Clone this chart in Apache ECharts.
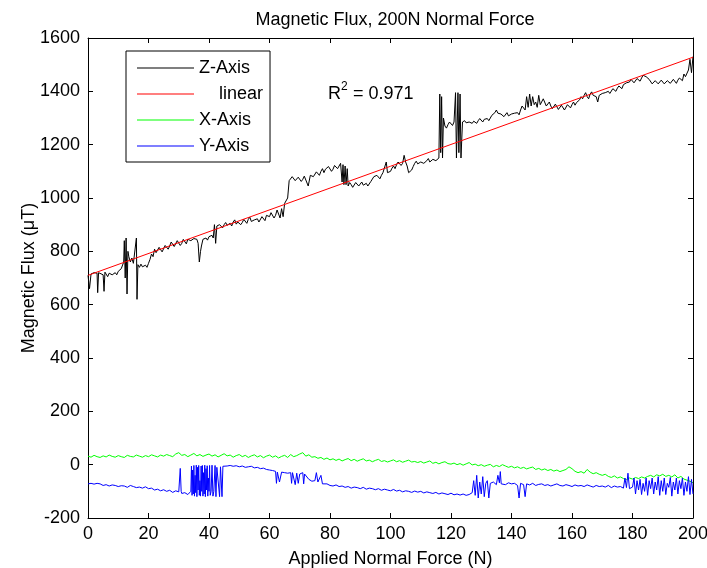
<!DOCTYPE html>
<html>
<head>
<meta charset="utf-8">
<script src="https://cdn.jsdelivr.net/npm/echarts@6/dist/echarts.min.js"></script>
<style>
html,body{margin:0;padding:0;background:#fff;}
#chart{width:707px;height:568px;}
</style>
</head>
<body>
<div id="chart"></div>
<script>
// ---- Data ----
const chartTitle = 'Magnetic Flux, 200N Normal Force';
const xAxisTitle = 'Applied Normal Force (N)';
const yAxisTitle = 'Magnetic Flux (\u03bcT)';
const seriesNames = ['Z-Axis', 'linear', 'X-Axis', 'Y-Axis'];
const xTicks = {min: 0, max: 200, interval: 20};
const yTicks = {min: -200, max: 1600, interval: 200};
const r2Value = '0.971';

// Z-Axis: [force (N), flux (uT)]
const zAxisData = [
[0,710],[0.5,660],[1,715],[2,720],[3,718],[3.2,645],[3.5,720],[4,715],[5,712],[5.3,650],[5.6,722],
[6,715],[6.5,705],[7,718],[7.5,725],[8,712],[8.5,708],[9,720],[9.5,712],[10,725],[10.5,718],[11,735],
[11.8,760],[12,840],[12.3,700],[12.6,850],[12.9,640],[13.2,800],[13.5,780],[14,760],[14.5,775],[15,755],
[15.5,760],[16,850],[16.2,620],[16.5,750],[17,740],[17.5,752],[18,742],[18.5,735],[19,748],[19.5,740],
[20,755],[20.5,770],[21,790],[21.5,780],[22,808],[22.5,795],[23,800],[23.5,815],[24,810],[24.5,798],
[25,805],[25.5,822],[26,815],[26.5,808],[27,820],[27.5,835],[28,830],[28.5,818],[29,825],[29.5,840],
[30,835],[30.5,822],[31,830],[31.5,845],[32,838],[32.5,828],[33,845],[33.5,852],[34,840],[34.5,835],
[35,848],[35.5,855],[36,845],[36.4,830],[36.8,760],[37.2,800],[37.5,820],[38,845],[38.5,838],[39,850],
[39.5,842],[40,855],[40.5,848],[41,860],[41.4,850],[41.8,900],[42.2,830],[42.6,895],[43,890],[43.5,900],
[44,895],[44.5,888],[45,900],[45.5,908],[46,898],[46.5,905],[47,905],[47.5,895],[48,910],[48.5,918],
[49,902],[49.5,910],[50,912],[50.5,900],[51,908],[51.5,920],[52,915],[52.5,905],[53,920],[53.5,928],
[54,912],[54.5,905],[55,918],[55.5,925],[56,922],[56.5,910],[57,915],[57.5,930],[58,925],[58.5,915],
[59,935],[59.5,928],[60,930],[60.5,945],[61,940],[61.5,925],[62,935],[62.5,955],[63,950],[63.5,925],
[64,960],[64.5,930],[65,980],[66,1000],[66.5,1065],[67,1070],[67.5,1080],[68,1075],[68.5,1065],[69,1068],
[69.5,1078],[70,1072],[70.5,1062],[71,1070],[71.5,1082],[72,1078],[72.8,1045],[73.5,1085],[74,1090],
[74.5,1080],[75,1085],[75.5,1098],[76,1095],[76.5,1085],[77,1100],[77.5,1110],[78,1095],[78.5,1108],
[79,1105],[79.5,1118],[80,1112],[80.5,1100],[81,1108],[81.5,1122],[82,1120],[82.5,1110],[83,1115],
[83.5,1130],[84,1060],[84.3,1125],[84.6,1050],[85,1120],[85.3,1050],[85.7,1110],[86,1045],[86.5,1058],
[87,1050],[87.5,1040],[88,1045],[88.5,1058],[89,1055],[89.5,1045],[90,1050],[90.5,1060],[91,1048],
[91.5,1055],[92,1055],[92.5,1045],[93,1052],[93.5,1062],[94,1060],[94.5,1080],[95,1075],[95.5,1085],
[96,1080],[96.5,1072],[97,1085],[97.5,1095],[98,1090],[98.6,1135],[99,1095],[99.5,1088],[100,1100],
[100.5,1112],[101,1120],[101.5,1110],[102,1125],[102.5,1135],[103,1135],[103.5,1122],[104,1130],
[104.5,1160],[105,1135],[105.5,1120],[106,1095],[106.5,1100],[107,1105],[107.5,1118],[108,1130],
[108.5,1138],[109,1128],[109.5,1122],[110,1135],[110.5,1142],[111,1130],[111.5,1125],[112,1140],
[112.5,1148],[113,1135],[113.5,1130],[114,1145],[114.5,1152],[115,1140],[115.5,1135],[116,1150],
[116.3,1390],[116.6,1170],[116.9,1380],[117.2,1150],[117.5,1300],[118,1270],[118.5,1262],[119,1275],
[119.5,1285],[120,1280],[120.5,1272],[121,1285],[121.5,1395],[121.8,1150],[122.3,1395],[122.6,1170],
[123,1390],[123.3,1150],[123.8,1285],[124,1280],[124.5,1290],[125,1282],[125.5,1275],[126,1285],
[126.5,1292],[127,1280],[127.5,1288],[128,1288],[128.5,1280],[129,1290],[129.5,1298],[130,1292],
[130.5,1285],[131,1295],[131.5,1302],[132,1298],[132.5,1290],[133,1300],[133.5,1310],[134,1305],
[134.5,1320],[135,1330],[135.5,1318],[136,1325],[136.5,1315],[137,1310],[137.5,1305],[138,1312],
[138.5,1320],[139,1308],[139.5,1315],[140,1315],[140.5,1308],[141,1318],[141.5,1325],[142,1320],
[142.5,1312],[143,1330],[143.5,1345],[144,1350],[144.5,1330],[145,1380],[145.5,1340],[146,1390],
[146.5,1345],[147,1380],[147.5,1350],[148,1360],[148.5,1340],[149,1385],[149.5,1350],[150,1355],
[150.5,1372],[151,1370],[151.5,1345],[152,1345],[152.5,1360],[153,1345],[153.5,1335],[154,1340],
[154.5,1352],[155,1345],[155.5,1332],[156,1338],[156.5,1348],[157,1342],[157.5,1330],[158,1336],
[158.5,1350],[159,1345],[159.5,1338],[160,1350],[160.5,1360],[161,1348],[161.5,1358],[162,1355],
[162.5,1368],[163,1380],[163.5,1372],[164,1385],[164.5,1395],[165,1380],[165.5,1372],[166,1390],
[166.5,1398],[167,1385],[167.5,1378],[168,1380],[168.5,1360],[169,1385],[169.5,1380],[170,1392],
[170.5,1385],[171,1395],[171.5,1402],[172,1400],[172.5,1392],[173,1398],[173.5,1410],[174,1408],
[174.5,1400],[175,1412],[175.5,1420],[176,1418],[176.5,1410],[177,1425],[177.5,1432],[178,1432],
[178.5,1425],[179,1435],[179.5,1445],[180,1440],[180.5,1432],[181,1438],[181.5,1448],[182,1445],
[182.5,1438],[183,1450],[183.5,1460],[184,1462],[184.5,1455],[185,1458],[185.5,1445],[186,1440],
[186.5,1428],[187,1432],[187.5,1440],[188,1438],[188.5,1428],[189,1430],[189.5,1442],[190,1436],
[190.5,1428],[191,1432],[191.5,1440],[192,1440],[192.5,1430],[193,1434],[193.5,1445],[194,1438],
[194.5,1430],[195,1442],[195.5,1450],[196,1450],[196.5,1440],[197,1465],[197.5,1455],[198,1448],
[198.5,1480],[199,1520],[199.5,1470],[200,1530]
];

// linear fit end points
const linearFit = [[0,710],[200,1528]];

// X-Axis flux, one value per 1 N from 0 to 200 N
const xAxisFlux = [
32,28,35,30,27,33,29,36,31,28,
34,30,27,35,31,29,36,32,28,34,
30,37,33,29,36,32,38,34,30,40,
45,35,38,30,36,42,33,38,31,36,
40,32,37,29,35,41,33,36,28,34,
38,30,35,27,33,37,29,34,26,32,
36,28,33,25,31,35,27,38,30,34,
40,45,32,37,28,30,24,27,20,25,
18,22,16,21,14,19,23,15,20,13,
18,22,14,17,11,16,20,12,15,10,
14,18,11,15,9,13,17,10,12,8,
12,6,10,14,5,9,3,8,11,4,
2,6,0,4,-2,3,8,-1,2,-4,
0,-6,-2,1,-8,-3,-7,0,-5,-10,
-6,-12,-8,-14,-10,-16,-12,-9,-18,-14,
-20,-16,-22,-18,-24,-20,-26,-22,-18,-8,
-15,-25,-30,-26,-32,-18,-28,-34,-30,-36,
-40,-36,-44,-48,-42,-50,-46,-52,-56,-50,
-54,-48,-52,-46,-50,-44,-40,-46,-38,-42,
-36,-44,-40,-46,-38,-50,-44,-54,-58,-62,
-68
];
const xAxisForceStart = 0, xAxisForceStep = 1;

// Y-Axis: [force (N), flux (uT)]
const yAxisData = [
[0,-72],[1,-70],[2,-73],[3,-70],[4,-72],[5,-78],[6,-75],[7,-80],[8,-76],[9,-78],[10,-82],[11,-79],
[12,-80],[13,-85],[14,-78],[15,-82],[16,-86],[17,-84],[18,-88],[19,-83],[20,-90],[21,-88],[22,-95],
[23,-92],[24,-98],[25,-94],[26,-100],[27,-96],[28,-104],[29,-98],[30,-102],[30.5,-14],[30.8,-100],
[31,-108],[32,-105],[33,-112],[34,-100],[34.2,-5],[34.4,-115],[34.6,-20],[34.8,-110],[35,-3],[35.2,-118],
[35.4,-40],[35.6,-105],[35.8,-2],[36,-120],[36.2,-10],[36.4,-95],[36.6,-3],[36.8,-115],[37,-60],
[37.2,-118],[37.4,-5],[37.6,-100],[37.8,-3],[38,-118],[38.2,-30],[38.4,-110],[38.6,-2],[38.8,-120],
[39,-15],[39.2,-95],[39.4,-4],[39.6,-118],[39.8,-50],[40,-100],[40.2,-3],[40.4,-115],[40.7,-100],
[41,-2],[41.3,-118],[41.6,-100],[42,-3],[42.3,-120],[42.6,-10],[43,-5],[43.5,-120],
[43.8,-8],[44,-3],[44.3,-120],[44.6,-6],[45,-2],[46,-5],[47,-3],[48,-6],[49,-4],[50,-8],[51,-5],[52,-10],
[53,-8],[54,-6],[55,-12],[56,-10],[57,-15],[58,-13],[59,-18],[60,-20],[61,-22],[62,-25],[62.3,-70],
[62.6,-28],[63,-30],[63.3,-65],[64,-28],[65,-30],[66,-32],[67,-30],[67.3,-70],[67.6,-30],[68,-35],
[68.5,-75],[69,-32],[69.5,-70],[70,-35],[71,-30],[71.3,-72],[71.6,-35],[72,-40],[73,-55],[74,-62],
[75,-60],[75.5,-30],[76,-65],[76.5,-70],[77,-40],[77.5,-72],[78,-65],[79,-72],[80,-78],[81,-80],[82,-76],
[83,-82],[84,-80],[85,-85],[86,-82],[87,-88],[88,-84],[89,-86],[90,-90],[91,-85],[92,-92],[93,-88],
[94,-90],[95,-94],[96,-90],[97,-96],[98,-92],[99,-95],[100,-98],[101,-93],[102,-99],[103,-96],[104,-102],
[105,-98],[106,-100],[107,-104],[108,-99],[109,-103],[110,-100],[111,-106],[112,-102],[113,-105],
[114,-108],[115,-104],[116,-110],[117,-106],[118,-109],[119,-112],[120,-107],[121,-113],[122,-110],
[123,-114],[124,-110],[125,-115],[126,-112],[127,-105],[127.5,-60],[128,-115],[128.5,-40],[129,-125],
[129.5,-65],[130,-110],[130.5,-45],[131,-120],[131.5,-70],[132,-60],[132.5,-125],[133,-70],[134,-65],
[135,-75],[135.5,-40],[136,-68],[136.3,-26],[136.6,-72],[137,-65],[138,-75],[139,-68],[140,-72],[141,-70],
[142,-78],[142.5,-125],[143,-70],[144,-75],[144.5,-120],[145,-72],[146,-76],[147,-70],[148,-78],[149,-74],
[150,-72],[151,-78],[152,-75],[153,-80],[154,-76],[155,-72],[156,-78],[157,-80],[158,-75],[159,-78],
[160,-82],[161,-76],[162,-80],[163,-78],[164,-82],[165,-76],[166,-80],[167,-84],[168,-78],[169,-82],
[170,-80],[171,-84],[172,-78],[173,-86],[174,-80],[175,-84],[176,-82],[177,-88],[177.5,-50],[178,-86],
[178.5,-32],[179,-90],[180,-84],[180.5,-50],[181,-110],[181.5,-60],[182,-95],[182.5,-55],[183,-112],
[183.5,-70],[184,-100],[184.5,-50],[185,-115],[185.5,-60],[186,-90],[186.5,-50],[187,-110],[187.5,-65],
[188,-95],[188.5,-45],[189,-115],[189.5,-60],[190,-100],[190.5,-50],[191,-112],[191.5,-70],[192,-85],
[192.5,-48],[193,-118],[193.5,-65],[194,-95],[194.5,-50],[195,-110],[195.5,-60],[196,-90],[196.5,-50],
[197,-115],[197.5,-65],[198,-100],[198.5,-45],[199,-112],[199.5,-55],[200,-110]
];

// ---- Chart ----
const FONT = '"Liberation Sans", Arial, Helvetica, sans-serif';
const FS = 18;
const xData = xAxisFlux.map((v, i) => [xAxisForceStart + i * xAxisForceStep, v]);

const axisCommon = {
  type: 'value',
  axisLine: {show: true, onZero: false, lineStyle: {color: '#000', width: 1}},
  axisTick: {show: true, inside: true, length: 5, lineStyle: {color: '#000'}},
  splitLine: {show: false},
  axisLabel: {color: '#000', fontFamily: FONT, fontSize: FS, formatter: v => String(v)}
};

const chart = echarts.init(document.getElementById('chart'), null, {renderer: 'canvas'});
chart.setOption({
  animation: false,
  backgroundColor: '#fff',
  title: {
    text: chartTitle, left: 390, textAlign: 'center', top: 6,
    textStyle: {fontFamily: FONT, fontSize: FS, fontWeight: 'normal', color: '#000'}
  },
  grid: {left: 88, right: 14, top: 38, bottom: 50, containLabel: false, outerBoundsMode: 'none'},
  legend: {
    data: seriesNames, orient: 'vertical', left: 126, top: 51,
    icon: 'rect', itemWidth: 57, itemHeight: 1, itemGap: 8, padding: [8, 7, 7, 11],
    borderColor: '#000', borderWidth: 1, backgroundColor: '#fff',
    formatter: n => n === 'linear' ? '    linear' : n,
    textStyle: {fontFamily: FONT, fontSize: FS, color: '#000'}
  },
  xAxis: [
    Object.assign({}, axisCommon, {
      position: 'bottom', min: xTicks.min, max: xTicks.max, interval: xTicks.interval,
      name: xAxisTitle, nameLocation: 'middle', nameGap: 32, nameMoveOverlap: false,
      nameTextStyle: {fontFamily: FONT, fontSize: FS, color: '#000'},
      axisLabel: Object.assign({}, axisCommon.axisLabel, {margin: 7})
    }),
    Object.assign({}, axisCommon, {
      position: 'top', min: xTicks.min, max: xTicks.max, interval: xTicks.interval,
      axisLabel: {show: false}
    })
  ],
  yAxis: [
    Object.assign({}, axisCommon, {
      position: 'left', min: yTicks.min, max: yTicks.max, interval: yTicks.interval,
      name: yAxisTitle, nameLocation: 'middle', nameGap: 50, nameMoveOverlap: false,
      nameTextStyle: {fontFamily: FONT, fontSize: FS, color: '#000'},
      axisLabel: Object.assign({}, axisCommon.axisLabel, {margin: 8})
    }),
    Object.assign({}, axisCommon, {
      position: 'right', min: yTicks.min, max: yTicks.max, interval: yTicks.interval,
      axisLabel: {show: false}
    })
  ],
  series: [
    {name: seriesNames[0], type: 'line', data: zAxisData, symbol: 'none', color: '#000000',
     lineStyle: {width: 1, color: '#000000'}},
    {name: seriesNames[1], type: 'line', data: linearFit, symbol: 'none', color: '#ff0000',
     lineStyle: {width: 1, color: '#ff0000'}},
    {name: seriesNames[2], type: 'line', data: xData, symbol: 'none', color: '#00ff00',
     lineStyle: {width: 1, color: '#00ff00'}},
    {name: seriesNames[3], type: 'line', data: yAxisData, symbol: 'none', color: '#0000ff',
     lineStyle: {width: 1, color: '#0000ff'}}
  ],
  graphic: [
    {type: 'text', left: 328, top: 85, style: {text: 'R', fontFamily: FONT, fontSize: FS, fill: '#000'}},
    {type: 'text', left: 341, top: 81, style: {text: '2', fontFamily: FONT, fontSize: 12, fill: '#000'}},
    {type: 'text', left: 353, top: 85, style: {text: '= ' + r2Value, fontFamily: FONT, fontSize: FS, fill: '#000'}}
  ]
});
</script>
</body>
</html>
